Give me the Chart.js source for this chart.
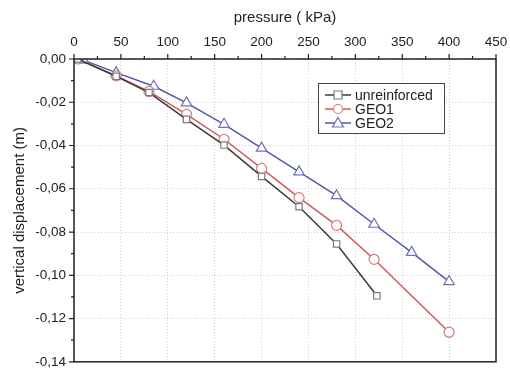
<!DOCTYPE html>
<html>
<head>
<meta charset="utf-8">
<script src="https://cdn.jsdelivr.net/npm/chart.js@4"></script>
<style>
  html, body { margin: 0; padding: 0; background: #fff; }
  #wrap { width: 510px; height: 369px; }
</style>
</head>
<body>
<div id="wrap"><canvas id="chart"></canvas></div>
<script>
// pressure (kPa) and vertical displacement (m)
const unreinforcedX = [4, 45, 80, 120, 160, 200, 240, 280, 323];
const unreinforcedY = [0, -0.008, -0.0155, -0.0279, -0.0398, -0.0543, -0.0683, -0.0855, -0.1095];
const geo1X = [4, 45, 80, 120, 160, 200, 240, 280, 320, 400];
const geo1Y = [0, -0.0078, -0.015, -0.0256, -0.0371, -0.0506, -0.0641, -0.0769, -0.0926, -0.1263];
const geo2X = [10, 45, 85, 120, 160, 200, 240, 280, 320, 360, 400];
const geo2Y = [-0.0005, -0.0063, -0.0126, -0.0203, -0.0302, -0.0412, -0.0522, -0.0632, -0.0764, -0.0894, -0.1029];

const seriesNames = ['unreinforced', 'GEO1', 'GEO2'];
const xTicks = [0, 50, 100, 150, 200, 250, 300, 350, 400, 450];
const yTicks = [0, -0.02, -0.04, -0.06, -0.08, -0.1, -0.12, -0.14];

const FONT = 'Arial, "Liberation Sans", sans-serif';
const toPts = (xs, ys) => xs.map((x, i) => ({ x: x, y: ys[i] }));

const styles = [
  { line: '#3c3c3c', mark: '#7a7a7a', shape: 'rect', r: 4.5 },
  { line: '#d05a5a', mark: '#d27d7d', shape: 'circle', r: 5 },
  { line: '#5656a8', mark: '#6f6fbe', shape: 'triangle', r: 6 }
];

const datasets = [[unreinforcedX, unreinforcedY], [geo1X, geo1Y], [geo2X, geo2Y]].map((d, i) => ({
  label: seriesNames[i],
  data: toPts(d[0], d[1]),
  borderColor: styles[i].line,
  borderWidth: 1.5,
  pointStyle: styles[i].shape,
  pointRadius: styles[i].r,
  pointBorderColor: styles[i].mark,
  pointBackgroundColor: '#fff',
  pointBorderWidth: 1.2,
  tension: 0
}));

// frame, outward ticks and the boxed legend
const framePlugin = {
  id: 'frame',
  afterDraw(chart) {
    const ctx = chart.ctx;
    const a = chart.chartArea;
    const xs = chart.scales.x, ys = chart.scales.y;
    ctx.save();
    ctx.strokeStyle = '#222';
    ctx.lineWidth = 1.5;
    ctx.strokeRect(a.left, a.top, a.right - a.left, a.bottom - a.top);
    ctx.lineWidth = 1.2;
    ctx.beginPath();
    for (let v = 0; v <= 450; v += 25) {
      const px = xs.getPixelForValue(v);
      const len = v % 50 === 0 ? 5 : 3;
      ctx.moveTo(px, a.top);
      ctx.lineTo(px, a.top - len);
    }
    for (let k = 0; k <= 14; k++) {
      const py = ys.getPixelForValue(-k / 100);
      const len = k % 2 === 0 ? 5 : 3;
      ctx.moveTo(a.left, py);
      ctx.lineTo(a.left - len, py);
    }
    ctx.stroke();

    // legend
    const bx = 318, by = 83, bw = 126, bh = 50;
    ctx.fillStyle = '#fff';
    ctx.fillRect(bx, by, bw, bh);
    ctx.strokeStyle = '#444';
    ctx.lineWidth = 1;
    ctx.strokeRect(bx + 0.5, by + 0.5, bw, bh);
    ctx.font = '14px ' + FONT;
    ctx.textBaseline = 'middle';
    chart.data.datasets.forEach((ds, i) => {
      const cy = by + 12 + i * 14;
      ctx.strokeStyle = ds.borderColor;
      ctx.lineWidth = 1.5;
      ctx.beginPath();
      ctx.moveTo(bx + 7, cy);
      ctx.lineTo(bx + 33, cy);
      ctx.stroke();
      ctx.fillStyle = '#fff';
      ctx.strokeStyle = ds.pointBorderColor;
      ctx.lineWidth = 1.2;
      ctx.beginPath();
      if (ds.pointStyle === 'rect') {
        ctx.rect(bx + 20 - 4, cy - 4, 8, 8);
      } else if (ds.pointStyle === 'circle') {
        ctx.arc(bx + 20, cy, 4.5, 0, Math.PI * 2);
      } else {
        ctx.moveTo(bx + 20, cy - 5.5);
        ctx.lineTo(bx + 25.5, cy + 4);
        ctx.lineTo(bx + 14.5, cy + 4);
        ctx.closePath();
      }
      ctx.fill();
      ctx.stroke();
      ctx.fillStyle = '#222';
      ctx.fillText(ds.label, bx + 37, cy + 1);
    });
    ctx.restore();
  }
};

new Chart(document.getElementById('chart'), {
  type: 'line',
  data: { datasets: datasets },
  plugins: [framePlugin],
  options: {
    responsive: true,
    maintainAspectRatio: false,
    animation: false,
    layout: { padding: { left: 0, top: 0, right: 14, bottom: 4 } },
    plugins: { legend: { display: false }, tooltip: { enabled: false } },
    scales: {
      x: {
        type: 'linear',
        position: 'top',
        min: 0,
        max: 450,
        afterBuildTicks: (s) => { s.ticks = xTicks.map(v => ({ value: v })); },
        afterFit: (s) => { s.height = 59; s.paddingLeft = 0; s.paddingRight = 0; },
        ticks: { color: '#222', font: { size: 13.5, family: FONT }, padding: 9 },
        grid: { color: '#cfcfcf', drawTicks: false },
        border: { display: false, dash: [1, 2] },
        title: { display: true, text: 'pressure ( kPa)', color: '#222', font: { size: 15, family: FONT }, padding: { top: 9, bottom: 0 } }
      },
      y: {
        type: 'linear',
        min: -0.14,
        max: 0,
        afterBuildTicks: (s) => { s.ticks = yTicks.map(v => ({ value: v })); },
        afterFit: (s) => { s.width = 74; s.paddingTop = 0; s.paddingBottom = 0; },
        ticks: {
          color: '#222',
          font: { size: 13.5, family: FONT },
          padding: 8,
          callback: (v) => (Math.abs(v) < 1e-9 ? 0 : v).toFixed(2).replace('.', ',')
        },
        grid: { color: '#cfcfcf', drawTicks: false },
        border: { display: false, dash: [1, 2] },
        title: { display: true, text: 'vertical displacement (m)', color: '#222', font: { size: 15, family: FONT }, padding: { top: 11, bottom: 0 } }
      }
    }
  }
});
</script>
</body>
</html>
